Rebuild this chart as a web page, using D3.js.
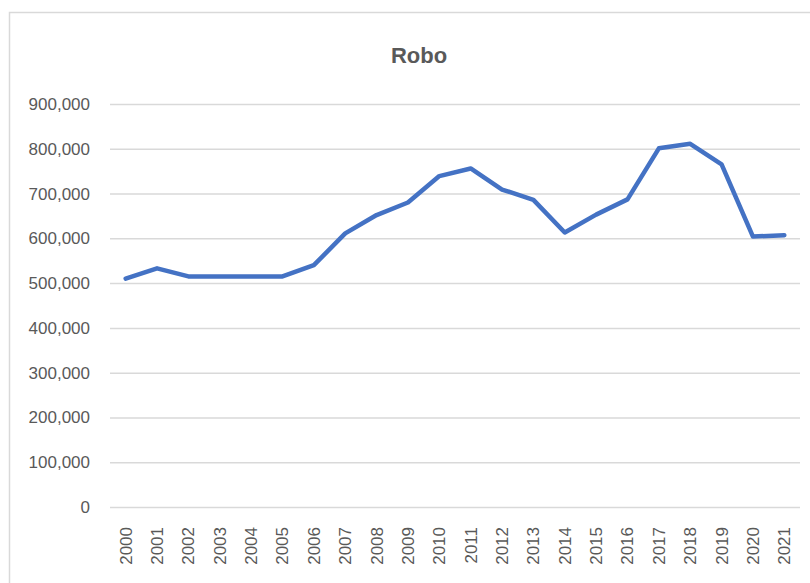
<!DOCTYPE html>
<head>
    <meta charset="utf-8">
    <title>Robo</title>
    <style>
        body { margin: 0; background: #fff; }
        svg { display: block; }
        .tick text { font: 17px "Liberation Sans", Arial, sans-serif; fill: #595959; }
        .title { font: bold 22px "Liberation Sans", Arial, sans-serif; fill: #595959; }
        .grid line { stroke: #d9d9d9; stroke-width: 1.5px; }
        .line { fill: none; stroke: #4472c4; stroke-width: 4.5px; stroke-linejoin: round; stroke-linecap: round; }
    </style>
</head>
<body>
<script src="https://d3js.org/d3.v7.min.js"></script>
<script>

var years = ["2000","2001","2002","2003","2004","2005","2006","2007","2008","2009","2010",
             "2011","2012","2013","2014","2015","2016","2017","2018","2019","2020","2021"];
var robo = [510000, 533000, 515000, 515000, 515000, 515000, 540000, 611000, 652000, 680000, 739000,
            756000, 709000, 686000, 613000, 653000, 687000, 801000, 811000, 765000, 604000, 607000];
var yTicks = [0, 100000, 200000, 300000, 400000, 500000, 600000, 700000, 800000, 900000];

var width = 810, height = 583;
// note: "top" is taken by window.top, so plot edges get their own names
var plotLeft = 110, plotRight = 800, plotTop = 104, plotBottom = 507;

var svg = d3.select("body").append("svg")
    .attr("width", width)
    .attr("height", height);

// chart frame
svg.append("rect")
    .attr("x", 9.5).attr("y", 12.5)
    .attr("width", width).attr("height", height)
    .attr("fill", "none").attr("stroke", "#d9d9d9").attr("stroke-width", 1.5);

svg.append("text")
    .attr("class", "title")
    .attr("x", 419).attr("y", 63)
    .attr("text-anchor", "middle")
    .text("Robo");

var x = d3.scaleBand().domain(years).range([plotLeft, plotRight]);
var y = d3.scaleLinear().domain([0, 900000]).range([plotBottom, plotTop]);

// y axis with gridlines
var yAxis = svg.append("g")
    .attr("class", "grid")
    .attr("transform", "translate(" + plotLeft + ",0)")
    .call(d3.axisLeft(y)
        .tickValues(yTicks)
        .tickSize(-(plotRight - plotLeft))
        .tickPadding(20)
        .tickFormat(d3.format(",")));
yAxis.select(".domain").remove();

// x axis
var xAxis = svg.append("g")
    .attr("transform", "translate(0," + plotBottom + ")")
    .call(d3.axisBottom(x).tickSize(0));
xAxis.select(".domain").remove();
xAxis.selectAll("text")
    .attr("transform", "rotate(-90)")
    .attr("text-anchor", "end")
    .attr("x", -20)
    .attr("y", 0)
    .attr("dy", "0.35em");

var line = d3.line()
    .x(function(d, i) { return x(years[i]) + x.bandwidth() / 2; })
    .y(function(d) { return y(d); });

svg.append("path")
    .datum(robo)
    .attr("class", "line")
    .attr("d", line);

</script>
</body>
